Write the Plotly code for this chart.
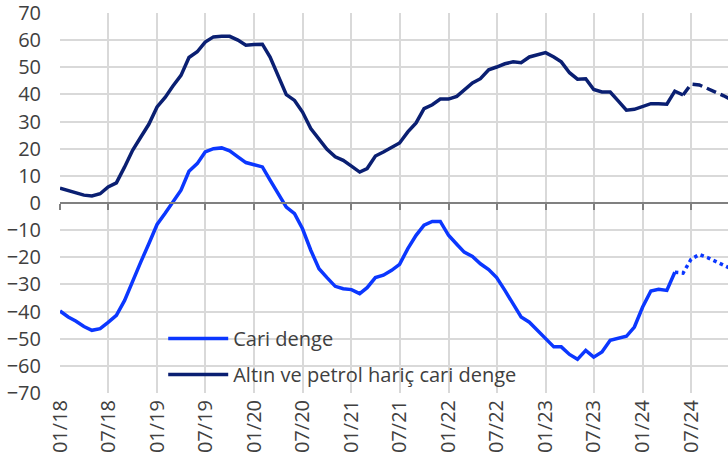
import pandas as pd
import plotly.graph_objects as go

# ---- data ----
months = pd.date_range("2018-01-01", "2024-12-01", freq="MS")

cari_denge = [
    -39.8, -42.0, -43.5, -45.5, -46.9, -46.3, -44.0, -41.4, -35.9, -28.5, -21.7, -15.0,   # 2018
    -7.9, -3.7, 0.4, 4.7, 11.7, 14.5, 18.8, 20.0, 20.3, 19.2, 17.0, 14.9,                  # 2019
    14.1, 13.3, 8.4, 3.4, -1.5, -3.9, -9.5, -17.4, -24.2, -27.5, -30.7, -31.6,             # 2020
    -31.9, -33.4, -31.2, -27.5, -26.6, -24.8, -22.6, -16.8, -11.9, -8.2, -6.8, -6.8,       # 2021
    -11.9, -15.2, -18.1, -19.7, -22.4, -24.5, -27.5, -32.2, -37.1, -42.0, -43.9, -46.9,    # 2022
    -50.0, -53.0, -53.0, -55.8, -57.6, -54.3, -56.8, -54.9, -50.6, -50.0, -49.1, -45.7,    # 2023
    -38.3, -32.4, -31.8, -32.2, -25.5, -25.8, -20.7, -19.0, -20.1, -21.6, -23.0, -24.3,    # 2024
]

altin_petrol_haric = [
    5.5, 4.7, 3.8, 2.9, 2.6, 3.4, 5.9, 7.4, 13.3, 19.4, 24.3, 29.0,                        # 2018
    35.4, 39.0, 43.0, 47.0, 53.6, 55.7, 59.3, 61.2, 61.4, 61.4, 60.0, 58.1,                # 2019
    58.4, 58.5, 53.8, 47.0, 39.9, 37.8, 33.5, 27.4, 23.7, 19.8, 17.0, 15.7,                # 2020
    13.6, 11.4, 12.7, 17.3, 18.8, 20.3, 22.1, 26.2, 29.5, 34.8, 36.2, 38.3,                # 2021
    38.3, 39.3, 41.5, 44.2, 45.8, 49.1, 50.1, 51.3, 52.0, 51.7, 53.8, 54.7,                # 2022
    55.4, 53.8, 52.0, 48.0, 45.6, 45.8, 41.8, 40.9, 40.9, 37.6, 34.2, 34.5,                # 2023
    35.6, 36.6, 36.6, 36.4, 41.2, 39.8, 43.8, 43.5, 42.2, 41.0, 39.5, 38.0,                # 2024
]

# last actual month of each series (projection continues from here)
cari_last_actual = "2024-05-01"
altin_last_actual = "2024-06-01"

tick_dates = pd.date_range("2018-01-01", "2024-07-01", freq="6MS")
tick_labels = [d.strftime("%m/%y") for d in tick_dates]
y_ticks = list(range(-70, 71, 10))

series_cari = pd.Series(cari_denge, index=months)
series_altin = pd.Series(altin_petrol_haric, index=months)

BLUE = "#0B37FF"
NAVY = "#0A1F72"
TXT = "#404040"
GRID = "#D9D9D9"
FONT = "Open Sans"
FS = 20

fig = go.Figure()

c_act = series_cari[:cari_last_actual]
c_prj = series_cari[cari_last_actual:]
a_act = series_altin[:altin_last_actual]
a_prj = series_altin[altin_last_actual:]

fig.add_trace(go.Scatter(x=c_act.index, y=c_act.values, mode="lines", name="Cari denge",
                         line=dict(color=BLUE, width=3.5), legendgroup="a"))
fig.add_trace(go.Scatter(x=a_act.index, y=a_act.values, mode="lines",
                         name="Altın ve petrol hariç cari denge",
                         line=dict(color=NAVY, width=3.5), legendgroup="b"))
fig.add_trace(go.Scatter(x=c_prj.index, y=c_prj.values, mode="lines", showlegend=False,
                         line=dict(color=BLUE, width=3.5, dash="dot")))
fig.add_trace(go.Scatter(x=a_prj.index, y=a_prj.values, mode="lines", showlegend=False,
                         line=dict(color=NAVY, width=3.5, dash="10px,5px")))
# helper trace for the zero-axis with tick marks
fig.add_trace(go.Scatter(x=months, y=[None] * len(months), xaxis="x2", showlegend=False,
                         hoverinfo="skip", mode="lines"))

x_range = ["2018-01-01", "2024-11-17"]

fig.update_layout(
    width=728, height=471,
    margin=dict(l=60, r=0, t=13, b=78, autoexpand=False),
    paper_bgcolor="white", plot_bgcolor="white",
    font=dict(family=FONT, size=FS, color=TXT),
    showlegend=True,
    legend=dict(x=0.1545, y=0.195, xanchor="left", yanchor="top",
                bgcolor="rgba(0,0,0,0)", font=dict(family=FONT, size=FS, color=TXT),
                tracegroupgap=7, itemwidth=60),
    xaxis=dict(type="date", range=x_range, tickmode="array", automargin=False,
               tickvals=tick_dates, ticktext=tick_labels, tickangle=-90,
               showgrid=True, gridcolor=GRID, gridwidth=2, ticks="",
               ticklabelstandoff=2, showline=False, zeroline=False,
               ticklabeloverflow="allow",
               tickfont=dict(family=FONT, size=FS, color=TXT)),
    xaxis2=dict(type="date", range=x_range, overlaying="x", anchor="free", position=0.5,
                tickmode="array", tickvals=tick_dates, showticklabels=False, automargin=False,
                showgrid=False, ticks="outside", ticklen=6, tickwidth=2, tickcolor="#808080",
                showline=True, linecolor="#808080", linewidth=2, zeroline=False),
    yaxis=dict(range=[-70, 70], tickmode="array", tickvals=y_ticks, automargin=False,
               showgrid=True, gridcolor=GRID, gridwidth=2, zeroline=False,
               showline=False, ticks="", ticklabelstandoff=18,
               ticklabeloverflow="allow",
               tickfont=dict(family=FONT, size=FS, color=TXT)),
)

fig.write_html("out.html", config={"displayModeBar": False},
               post_script="document.body.style.margin='0';")
